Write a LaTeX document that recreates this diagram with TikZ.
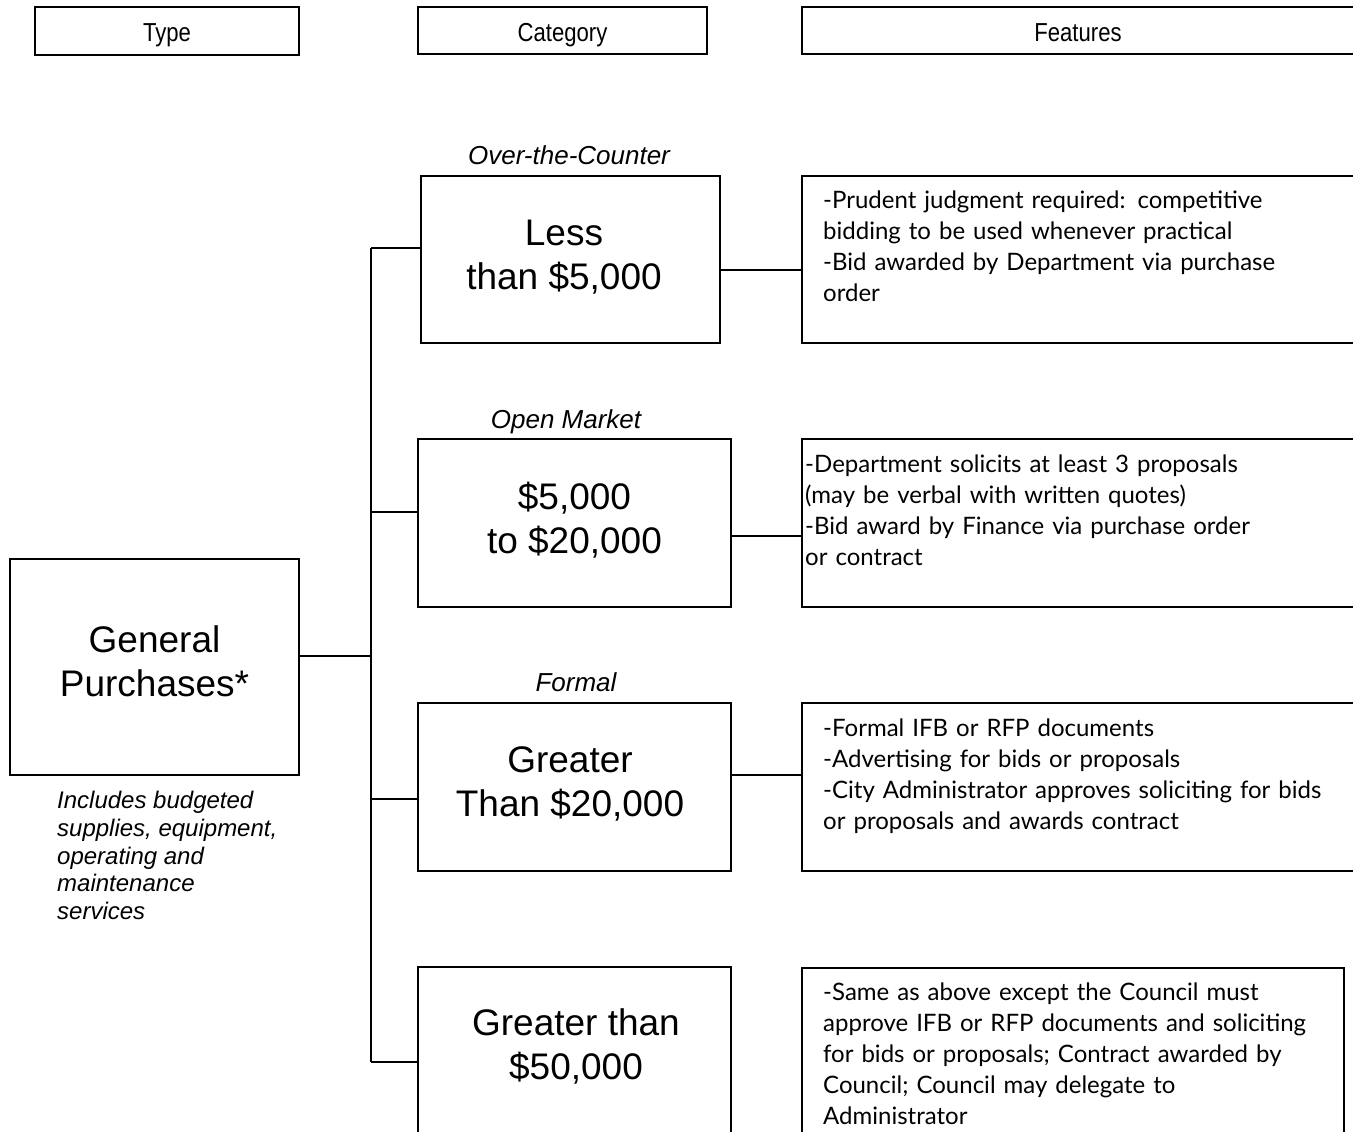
\documentclass[tikz,border=0pt]{standalone}
\usepackage{fontspec}
\setmainfont{Liberation Sans}
\newfontfamily\hdrfont[FakeStretch=0.85]{Liberation Sans}
\newfontfamily\featfont{Lato}
\begin{document}
\begin{tikzpicture}[x=1pt,y=-1pt,
  hdr/.style={draw, line width=2.2pt, inner sep=0pt},
  hdrtext/.style={inner sep=0pt, font=\hdrfont\fontsize{26}{30}\selectfont},
  catbox/.style={draw, line width=1.8pt, inner sep=0pt},
  cattext/.style={inner sep=0pt, align=center, font=\fontsize{37}{44}\selectfont},
  featbox/.style={draw, line width=1.8pt, inner sep=0pt},
  feattext/.style={anchor=north west, inner sep=0pt, text width=540pt, align=left, font=\featfont\fontsize{24}{31}\selectfont},
  lbl/.style={inner sep=0pt, font=\itshape\fontsize{26}{30}\selectfont},
  conn/.style={line width=1.5pt}]
\useasboundingbox (0,0) rectangle (1353,1132);
\clip (0,0) rectangle (1353,1132);
\fill[white] (0,0) rectangle (1353,1132);
% headers
\node[hdr, line width=2.8pt, minimum width=264pt, minimum height=48pt] (htype) at (167,31) {};
\node[hdr, minimum width=289pt, minimum height=47pt] (hcat) at (562.5,30.5) {};
\node[hdr, minimum width=570pt, minimum height=47pt] (hfeat) at (1087,30.5) {};
\node[hdrtext] (htypet) at (167,35) {Type};
\node[hdrtext] (hcatt) at (562.5,35.5) {Category};
\node[hdrtext] (hfeatt) at (1078,33) {Features};
% general purchases
\node[catbox, minimum width=289pt, minimum height=216pt] (gp) at (154.5,667) {};
\node[cattext] (gpt) at (154.5,661.5) {General\\Purchases*};
\node[anchor=north west, inner sep=0pt, align=left, font=\itshape\fontsize{24}{27.8}\selectfont] (note) at (57,791) {Includes budgeted\\supplies, equipment,\\operating and\\maintenance\\services};
% category labels
\node[lbl] (l1) at (569,155) {Over-the-Counter};
\node[lbl] (l2) at (566,422) {Open Market};
\node[lbl] (l3) at (576,682) {Formal};
% category boxes
\node[catbox, minimum width=299pt, minimum height=167pt] (c1) at (570.5,259.5) {};
\node[catbox, minimum width=313pt, minimum height=168pt] (c2) at (574.5,523) {};
\node[catbox, minimum width=313pt, minimum height=168pt] (c3) at (574.5,787) {};
\node[catbox, minimum width=313pt, minimum height=168pt] (c4) at (574.5,1051) {};
\node[cattext] (c1t) at (564,257.5) {Less\\than \$5,000};
\node[cattext] (c2t) at (574.5,520) {\$5,000\\to \$20,000};
\node[cattext] (c3t) at (570,783.5) {Greater\\Than \$20,000};
\node[cattext] (c4t) at (576,1046.5) {Greater than\\\$50,000};
% feature boxes
\node[featbox, minimum width=570pt, minimum height=167pt] (f1) at (1087,259.5) {};
\node[featbox, minimum width=570pt, minimum height=168pt] (f2) at (1087,523) {};
\node[featbox, minimum width=570pt, minimum height=168pt] (f3) at (1087,787) {};
\node[featbox, line width=2.2pt, minimum width=542pt, minimum height=168pt] (f4) at (1073,1052) {};
\node[feattext] (f1t) at (823,191) {-Prudent judgment required: competitive\\bidding to be used whenever practical\\-Bid awarded by Department via purchase\\order};
\node[feattext] (f2t) at (805,455) {-Department solicits at least 3 proposals\\(may be verbal with written quotes)\\-Bid award by Finance via purchase order\\or contract};
\node[feattext] (f3t) at (823,719) {-Formal IFB or RFP documents\\-Advertising for bids or proposals\\-City Administrator approves soliciting for bids\\or proposals and awards contract};
\node[feattext] (f4t) at (823,983) {-Same as above except the Council must\\approve IFB or RFP documents and soliciting\\for bids or proposals; Contract awarded by\\Council; Council may delegate to\\Administrator};
% trunk
\coordinate (t1) at (371,248);
\coordinate (t2) at (371,512);
\coordinate (t3) at (371,799);
\coordinate (t4) at (371,1062);
\coordinate (j0) at (371,656);
\draw[conn] (t1) -- (t4);
\draw[conn] (j0) -- (j0 -| gp.east);
\draw[conn] (t1) -- (t1 -| c1.west);
\draw[conn] (t2) -- (t2 -| c2.west);
\draw[conn] (t3) -- (t3 -| c3.west);
\draw[conn] (t4) -- (t4 -| c4.west);
% feature connectors
\coordinate (k1) at (760,270);
\coordinate (k2) at (760,536);
\coordinate (k3) at (760,775);
\draw[conn] (k1 -| c1.east) -- (k1 -| f1.west);
\draw[conn] (k2 -| c2.east) -- (k2 -| f2.west);
\draw[conn] (k3 -| c3.east) -- (k3 -| f3.west);
\end{tikzpicture}
\end{document}
